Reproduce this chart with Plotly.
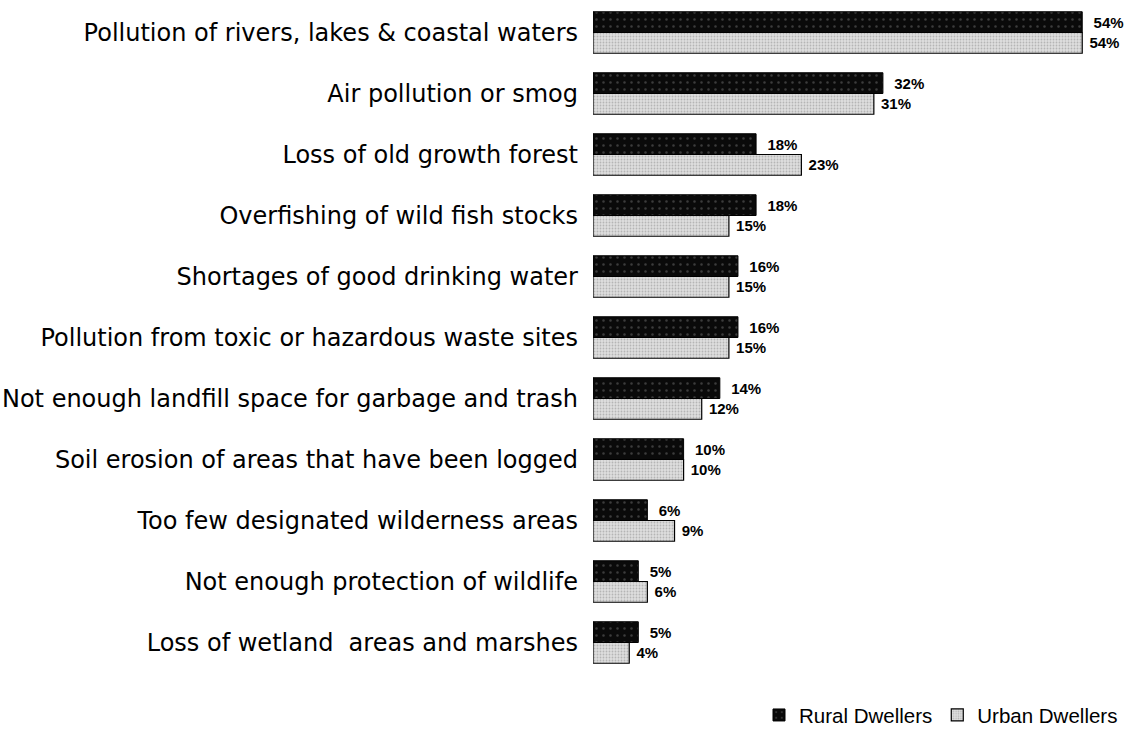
import plotly.graph_objects as go

categories = [
    "Pollution of rivers, lakes & coastal waters",
    "Air pollution or smog",
    "Loss of old growth forest",
    "Overfishing of wild fish stocks",
    "Shortages of good drinking water",
    "Pollution from toxic or hazardous waste sites",
    "Not enough landfill space for garbage and trash",
    "Soil erosion of areas that have been logged",
    "Too few designated wilderness areas",
    "Not enough protection of wildlife",
    "Loss of wetland\u00a0 areas and marshes",
]
rural = [54, 32, 18, 18, 16, 16, 14, 10, 6, 5, 5]
urban = [54, 31, 23, 15, 15, 15, 12, 10, 9, 6, 4]

LABEL_FONT = "DejaVu Sans, Arial, sans-serif"
VALUE_FONT = "Liberation Sans, Arial, sans-serif"


def pct_labels(values, pad):
    # leading non-breaking spaces push the value text away from the bar end
    return ["\u00a0" * pad + f"{v}%" for v in values]


fig = go.Figure()
fig.add_trace(go.Bar(
    name="Rural Dwellers",
    y=categories, x=rural, orientation="h",
    text=pct_labels(rural, 2), textposition="outside",
    textfont=dict(size=15, color="black", family=VALUE_FONT, weight="bold"),
    marker=dict(
        color="#0a0a0a",
        line=dict(color="black", width=1),
        pattern=dict(shape=".", fgcolor="#6e6e6e", bgcolor="#0a0a0a",
                     size=7, solidity=0.1),
    ),
    cliponaxis=False,
))
fig.add_trace(go.Bar(
    name="Urban Dwellers",
    y=categories, x=urban, orientation="h",
    text=pct_labels(urban, 1), textposition="outside",
    textfont=dict(size=15, color="black", family=VALUE_FONT, weight="bold"),
    marker=dict(
        color="#d4d4d4",
        line=dict(color="black", width=1.2),
        pattern=dict(shape=".", fgcolor="#8c8c8c", bgcolor="#dedede",
                     size=3, solidity=0.3),
    ),
    cliponaxis=False,
))

fig.update_layout(
    width=1128, height=737,
    margin=dict(l=593, r=5, t=2, b=52),
    paper_bgcolor="white", plot_bgcolor="white",
    barmode="group", bargap=0.32, bargroupgap=0,
    font=dict(family=LABEL_FONT, size=24, color="black"),
    showlegend=True,
    legend=dict(orientation="h", x=1.0, xanchor="right", y=-0.033, yanchor="top",
                font=dict(size=20.5, family=VALUE_FONT), traceorder="normal",
                itemwidth=30, tracegroupgap=0),
    xaxis=dict(range=[0, 58.5], visible=False),
    yaxis=dict(autorange="reversed", showline=False, showgrid=False,
               ticks="", ticklabelstandoff=14, tickfont=dict(size=24)),
)

fig.write_html("out.html")
